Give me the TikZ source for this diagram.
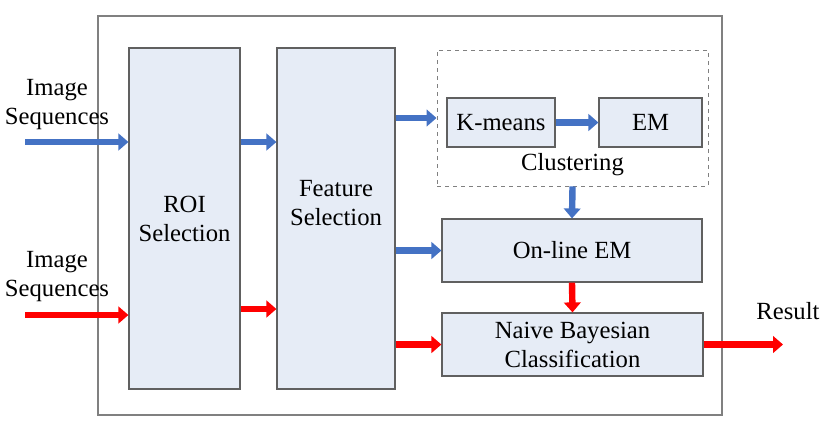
\documentclass[tikz,border=0pt]{standalone}
\usepackage{fontspec}
\setmainfont{Liberation Serif}
\newfontfamily\tnrfont{Liberation Serif}
\usetikzlibrary{arrows.meta}
\definecolor{boxfill}{HTML}{E6ECF6}
\definecolor{boxline}{HTML}{606060}
\definecolor{outerline}{HTML}{808080}
\definecolor{arrblue}{HTML}{4472C4}
\definecolor{arrred}{HTML}{FF0000}
\tikzset{
  px/.style={x=0.75pt,y=-0.75pt},
  box/.style={draw=boxline,fill=boxfill,line width=0.9pt,rectangle,inner sep=0pt,align=center},
  lbl/.style={inner sep=0pt,align=center,font=\tnrfont\fontsize{18.5pt}{21.75pt}\selectfont},
  barrow/.style={draw=arrblue,line width=4.8pt,-{Triangle[length=7.5pt,width=12.5pt]}},
  rarrow/.style={draw=arrred,line width=4.8pt,-{Triangle[length=7.5pt,width=12.5pt]}},
}
\begin{document}
\begin{tikzpicture}[px]
\useasboundingbox (0,0) rectangle (830,422);
% outer frame
\draw[outerline,line width=1.5pt] (98,16) rectangle (722,415);
% boxes
\node[box,minimum width=83.25pt,minimum height=255.75pt] (roi) at (184.5,218.5) {};
\node[lbl] (roit) at (184.5,219) {ROI\\Selection};
\node[box,minimum width=88.5pt,minimum height=255.75pt] (feat) at (336,218.5) {};
\node[lbl] (featt) at (336,203) {Feature\\Selection};
\node[draw=outerline,dashed,line width=0.7pt,rectangle,inner sep=0pt,minimum width=203.25pt,minimum height=102pt] (clus) at (572.5,118) {};
\node[lbl] (clust) at (572.5,165) {Clustering};
\node[box,lbl,minimum width=81pt,minimum height=36.75pt] (km) at (501,122.5) {K-means};
\node[box,lbl,minimum width=77.25pt,minimum height=36.75pt] (em) at (650.5,122.5) {EM};
\node[box,lbl,minimum width=195pt,minimum height=47.25pt] (onl) at (572,250.5) {On-line EM};
\node[box,lbl,minimum width=195.75pt,minimum height=47.25pt] (nb) at (572.5,344.5) {Naive Bayesian\\Classification};
% texts
\node[lbl] (seq1) at (57,105) {Image\\Sequences};
\node[lbl] (seq2) at (57,277) {Image\\Sequences};
\node[lbl] (rest) at (788,311) {Result};
% coordinates
\coordinate (in1) at (25,142);
\coordinate (in2) at (25,315);
\coordinate (r2) at (0,309);
\coordinate (res) at (783,344.5);
% arrows
\draw[barrow] (in1) -- (in1 -| roi.west);
\draw[rarrow] (in2) -- (in2 -| roi.west);
\draw[barrow] (roi.east |- in1) -- (feat.west |- in1);
\draw[rarrow] (roi.east |- r2) -- (feat.west |- r2);
\draw[barrow] (feat.east |- clus.west) -- (clus.west);
\draw[barrow] (km.east) -- (em.west);
\draw[barrow] (clus.south) -- (onl.north);
\draw[barrow] (feat.east |- onl.west) -- (onl.west);
\draw[rarrow] (onl.south) -- (nb.north);
\draw[rarrow] (feat.east |- nb.west) -- (nb.west);
\draw[rarrow] (nb.east) -- (res);
\end{tikzpicture}
\end{document}
